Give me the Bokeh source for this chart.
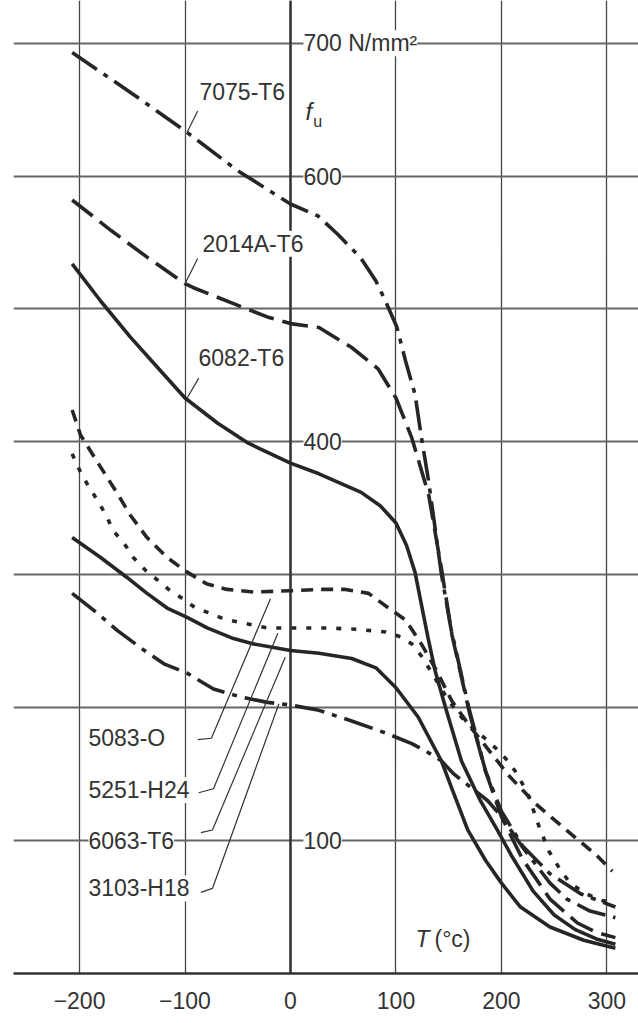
from bokeh.plotting import figure
from bokeh.models import Range1d, FixedTicker, Label, Span
from bokeh.embed import file_html
from bokeh.resources import INLINE

# ---------------- data ----------------
x_ticks = [-200, -100, 0, 100, 200, 300]
x_tick_labels = ["\u2212200", "\u2212100", "0", "100", "200", "300"]
y_grid_values = [100, 200, 300, 400, 500, 600, 700]
y_tick_values = [700, 600, 400, 100]
y_tick_labels = ["700 N/mm\u00b2", "600", "400", "100"]

T_7075 = [-207, -150, -100, -50, 0, 26, 45, 67, 81, 90, 101, 109, 118, 124, 131, 143, 152, 169, 185, 200, 220, 246, 275, 308]
F_7075 = [693, 662, 634, 604, 579, 570, 556, 538, 521, 506, 486, 461, 436, 404, 370, 301, 260, 200, 152, 122, 96, 75, 60, 50]

T_2014A = [-207, -170, -136, -100, -92, -54, -22, 0, 27, 58, 83, 100, 115, 131, 143, 153, 170, 185, 200, 220, 246, 272, 290, 308]
F_2014A = [582, 559, 539, 519, 516, 504, 494, 489, 486, 471, 455, 433, 403, 360, 305, 255, 195, 152, 118, 86, 56, 38, 31, 27]

T_6082 = [-207, -180, -152, -126, -100, -69, -40, 0, 27, 67, 85, 100, 110, 118, 124, 130, 137, 147, 162, 180, 196, 210, 230, 250, 270, 290, 308]
F_6082 = [534, 506, 479, 456, 433, 414, 399, 384, 376, 362, 352, 339, 322, 302, 278, 254, 228, 200, 160, 130, 108, 88, 62, 44, 33, 26, 22]

T_5083 = [-207, -199, -180, -164, -152, -136, -117, -98, -79, -60, -35, 0, 27, 52, 74, 93, 109, 124, 137, 153, 170, 190, 208, 220, 232, 245, 260, 275, 290, 305]
F_5083 = [424, 405, 381, 361, 345, 328, 313, 302, 293, 289, 287, 288, 289, 289, 286, 275, 266, 248, 230, 205, 186, 166, 148, 138, 128, 119, 109, 99, 89, 77]

T_5251 = [-207, -199, -191, -183, -175, -168, -158, -149, -137, -126, -114, -102, -90, -76, -64, -47, -22, 0, 33, 62, 90, 102, 115, 124, 135, 150, 165, 180, 194, 206, 215, 225, 235, 245, 255, 265, 280, 295, 308]
F_5251 = [391, 377, 366, 356, 345, 333, 324, 313, 303, 296, 288, 282, 275, 271, 267, 264, 260, 260, 260, 259, 257, 254, 248, 239, 225, 205, 190, 180, 170, 160, 150, 135, 112, 92, 79, 68, 60, 55, 53]

T_6063 = [-207, -180, -155, -136, -117, -98, -79, -54, -35, 0, 27, 58, 81, 100, 121, 143, 155, 168, 185, 200, 218, 246, 278, 308]
F_6063 = [328, 313, 298, 286, 275, 268, 260, 252, 248, 243, 241, 237, 230, 215, 193, 160, 135, 108, 85, 68, 50, 35, 25, 19]

T_3103 = [-207, -183, -164, -142, -120, -98, -73, -47, -22, 0, 27, 58, 90, 115, 131, 143, 155, 171, 187, 200, 220, 246, 262, 284, 308]
F_3103 = [286, 271, 258, 245, 233, 226, 214, 208, 204, 202, 198, 190, 181, 173, 166, 160, 150, 140, 130, 118, 95, 68, 56, 47, 42]

names = ["7075-T6", "2014A-T6", "6082-T6", "5083-O", "5251-H24", "6063-T6", "3103-H18"]
temps = [T_7075, T_2014A, T_6082, T_5083, T_5251, T_6063, T_3103]
strengths = [F_7075, F_2014A, F_6082, F_5083, F_5251, F_6063, F_3103]
dashes = ["30 8 5 8", "26 9", "solid", "12 8", "5 10", "solid", "30 8 5 8"]

# label anchors (left edge, vertical middle) and leader lines
label_x = [-86.3, -83.4, -87.2, -191.5, -191.5, -191.5, -191.5]
label_y = [663, 549, 463, 177, 138, 100, 64]
leader_xs = [[-88, -98], [-88, -100], [-87, -98],
             [-88, -75, -19], [-87, -73, -12], [-85, -74, -5], [-85, -74, -11]]
leader_ys = [[649, 633], [538, 519], [448, 433],
             [176, 177, 282], [136, 139, 256], [106, 108, 238], [61, 64, 203]]

FONT = "Liberation Sans"
INK = "#333333"

p = figure(width=638, height=1023,
           x_range=Range1d(-262.6, 329.9), y_range=Range1d(0, 732.1),
           output_backend="svg", toolbar_location=None,
           y_axis_location=None,
           min_border_left=13, min_border_right=0, min_border_top=0, min_border_bottom=50)
p.outline_line_color = None
p.background_fill_color = "white"
p.border_fill_color = "white"

# grids
p.xgrid.ticker = FixedTicker(ticks=x_ticks)
p.xgrid.grid_line_color = "#444444"
p.xgrid.grid_line_width = 1.3
p.ygrid.ticker = FixedTicker(ticks=y_grid_values)
p.ygrid.grid_line_color = "#666666"
p.ygrid.grid_line_width = 1.8

# x axis
ax = p.xaxis[0]
ax.ticker = FixedTicker(ticks=x_ticks)
ax.major_label_overrides = {float(t): s for t, s in zip(x_ticks, x_tick_labels)}
ax.axis_line_width = 2.5
ax.axis_line_color = INK
ax.major_tick_out = 0
ax.major_tick_in = 0
ax.minor_tick_out = 0
ax.minor_tick_in = 0
ax.major_label_standoff = 18
ax.major_label_text_font = FONT
ax.major_label_text_font_size = "23px"
ax.major_label_text_color = INK

# y axis line at T = 0
p.add_layout(Span(location=0, dimension="height", line_color=INK, line_width=2.5, level="underlay"))

# curves
for n, t, f, d in zip(names, temps, strengths, dashes):
    p.line(t, f, line_width=3.6, line_color="#262626", line_dash=d, line_join="round")

# leaders
for xs, ys in zip(leader_xs, leader_ys):
    p.line(xs, ys, line_width=1.2, line_color=INK)

# curve labels
for n, lx, ly in zip(names, label_x, label_y):
    p.add_layout(Label(x=lx, y=ly, text=n, text_font=FONT, text_font_size="23px",
                       text_color=INK, text_align="left", text_baseline="middle",
                       background_fill_color="white", background_fill_alpha=1.0))

# y tick labels
for v, s in zip(y_tick_values, y_tick_labels):
    p.add_layout(Label(x=12.3, y=v, text=s, text_font=FONT, text_font_size="23px",
                       text_color=INK, text_align="left", text_baseline="middle",
                       background_fill_color="white", background_fill_alpha=1.0))

# axis titles
p.add_layout(Label(x=14.2, y=648.6, text="f", text_font=FONT, text_font_size="24px",
                   text_font_style="italic", text_color=INK, text_align="left", text_baseline="middle"))
p.add_layout(Label(x=21.5, y=641, text="u", text_font=FONT, text_font_size="16px",
                   text_color=INK, text_align="left", text_baseline="middle"))
p.add_layout(Label(x=118.5, y=25.6, text="T", text_font=FONT, text_font_size="23px",
                   text_font_style="italic", text_color=INK, text_align="left", text_baseline="middle"))
p.add_layout(Label(x=136.5, y=25.6, text="(\u00b0c)", text_font=FONT, text_font_size="23px",
                   text_color=INK, text_align="left", text_baseline="middle"))

open("out.html", "w").write(file_html(p, INLINE))
